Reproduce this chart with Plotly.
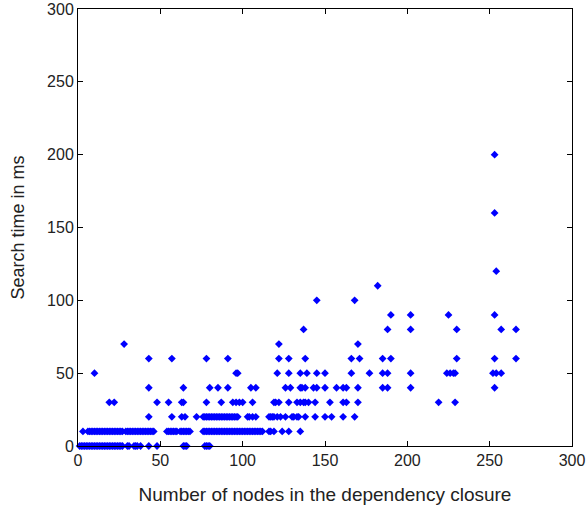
import plotly.graph_objects as go

# x positions (number of nodes) for each search-time level (ms)
x_at_0 = [1, 2, 3, 4, 5, 6, 7, 8, 9, 10, 11, 12, 13, 14, 15, 16, 17, 18, 19, 20,
          21, 22, 23, 24, 25, 26, 27, 30, 31, 34, 35, 36, 38, 43, 48, 64, 65, 66,
          77, 78, 79, 80]
x_at_10 = [3, 6, 7, 8, 9, 10, 11, 12, 13, 14, 15, 16, 17, 18, 19, 20, 21, 22, 23,
           24, 25, 26, 27, 29, 30, 31, 32, 33, 34, 35, 36, 37, 38, 39, 40, 41, 42,
           43, 44, 45, 46, 54, 55, 56, 57, 58, 59, 60, 62, 63, 64, 65, 66, 67, 68,
           76, 77, 78, 79, 80, 81, 82, 83, 84, 85, 86, 87, 88, 89, 90, 91, 92, 93,
           94, 95, 96, 97, 98, 99, 100, 101, 102, 103, 104, 105, 106, 107, 108,
           109, 110, 111, 112, 116, 117, 119, 124, 128, 135]
x_at_20 = [43, 57, 63, 65, 72, 76, 77, 78, 79, 80, 81, 82, 83, 84, 85, 86, 87, 88,
           89, 90, 91, 92, 93, 94, 95, 96, 97, 103, 104, 106, 108, 116, 117, 118,
           119, 121, 123, 126, 130, 131, 133, 134, 138, 144, 150, 154, 161, 168]
x_at_30 = [19, 22, 48, 55, 63, 64, 78, 87, 94, 96, 98, 100, 106, 119, 120, 122, 128,
           133, 135, 137, 138, 140, 144, 153, 161, 163, 170, 219, 229]
x_at_40 = [43, 64, 80, 85, 91, 105, 108, 126, 129, 135, 136, 138, 143, 145, 150, 157,
           161, 163, 170, 185, 188, 202, 253]
x_at_50 = [10, 96, 97, 121, 128, 135, 139, 145, 150, 166, 177, 185, 188, 202, 224,
           226, 228, 229, 252, 254, 257]
x_at_60 = [43, 57, 78, 91, 122, 128, 138, 166, 171, 185, 190, 230, 253, 266]
x_at_70 = [28, 122, 170]
x_at_80 = [137, 188, 202, 230, 257, 266]
x_at_90 = [190, 202, 225, 253]
x_at_100 = [145, 168]
x_at_110 = [182]
x_at_120 = [254]
x_at_160 = [253]
x_at_200 = [253]

levels = [0, 10, 20, 30, 40, 50, 60, 70, 80, 90, 100, 110, 120, 160, 200]
groups = [x_at_0, x_at_10, x_at_20, x_at_30, x_at_40, x_at_50, x_at_60, x_at_70,
          x_at_80, x_at_90, x_at_100, x_at_110, x_at_120, x_at_160, x_at_200]

xs, ys = [], []
for lvl, g in zip(levels, groups):
    xs.extend(g)
    ys.extend([lvl] * len(g))

tick_vals = [0, 50, 100, 150, 200, 250, 300]

fig = go.Figure(go.Scatter(
    x=xs, y=ys, mode="markers",
    marker=dict(symbol="diamond", size=6, color="#0000FF", line=dict(width=0)),
    showlegend=False, cliponaxis=False,
))

axis_common = dict(
    range=[0, 300], tickvals=tick_vals, ticks="inside", ticklen=5,
    tickcolor="#000000", showline=True, linecolor="#000000", linewidth=1,
    mirror="ticks", showgrid=False, zeroline=False, automargin=False,
    tickfont=dict(family="Liberation Sans", size=16, color="#222222"),
)

fig.update_layout(
    width=587, height=510,
    margin=dict(l=78, r=15, t=9, b=64),
    paper_bgcolor="white", plot_bgcolor="white",
    xaxis=dict(**axis_common,
               title=dict(text="Number of nodes in the dependency closure",
                          font=dict(family="Liberation Sans", size=19, color="#222222"),
                          standoff=19)),
    yaxis=dict(**axis_common,
               title=dict(text="Search time in ms",
                          font=dict(family="Liberation Sans", size=18, color="#222222"),
                          standoff=17)),
)

fig.write_html("out.html", config={"displayModeBar": False},
               post_script="document.body.style.margin='0';")
